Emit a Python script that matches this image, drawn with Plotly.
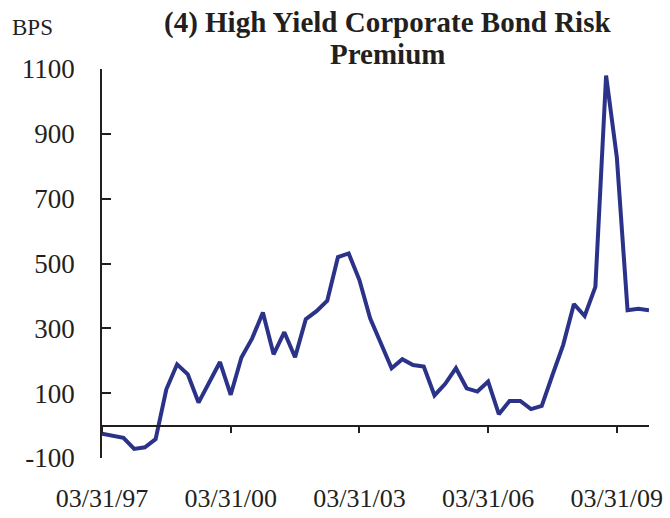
import plotly.graph_objects as go

# quarter-end dates, 1997Q1 .. 2009Q4
quarters = []
for yr in range(97, 110):
    for md in ["03/31", "06/30", "09/30", "12/31"]:
        quarters.append(f"{md}/{yr % 100:02d}")

# high yield corporate bond risk premium, bps
premium = [-25, -30, -38, -72, -67, -42, 112, 189, 158, 71, 136, 196,
           95, 210, 269, 349, 220, 288, 211, 328, 353, 385, 520, 531,
           449, 331, 254, 177, 205, 187, 182, 93, 129, 177, 115, 105,
           136, 35, 76, 76, 51, 61, 156, 249, 375, 338, 428, 1080,
           828, 356, 360, 356]

tick_labels = ["03/31/97", "03/31/00", "03/31/03", "03/31/06", "03/31/09"]
y_ticks = [-100, 100, 300, 500, 700, 900, 1100]

idx = list(range(len(quarters)))
tick_idx = [quarters.index(t) for t in tick_labels]

fig = go.Figure()
fig.add_trace(go.Scatter(x=idx, y=premium, mode="lines",
                         line=dict(color="#2B3388", width=4),
                         showlegend=False, xaxis="x", yaxis="y"))
# empty trace on xaxis2 so the zero-level axis is rendered
fig.add_trace(go.Scatter(x=[], y=[], xaxis="x2", yaxis="y", showlegend=False))

serif = "Liberation Serif, Times New Roman, serif"
ink = "#231F20"
H = 388.4  # plot height in px

fig.update_layout(
    width=670, height=518,
    margin=dict(l=102, r=21, t=69, b=60, autoexpand=False),
    plot_bgcolor="white", paper_bgcolor="white",
    font=dict(family=serif, color=ink),
    xaxis=dict(range=[0, len(quarters) - 1], showline=False, showgrid=False,
               zeroline=False, tickvals=tick_idx, ticktext=tick_labels,
               ticks="outside", ticklen=17, tickcolor="rgba(0,0,0,0)",
               tickfont=dict(size=26), automargin=False),
    xaxis2=dict(range=[0, len(quarters) - 1], overlaying="x", anchor="free",
                position=1 / 12, side="bottom", showline=True, linecolor=ink,
                linewidth=1.5, showgrid=False, zeroline=False,
                tickvals=tick_idx, ticks="outside", ticklen=7, tickwidth=1.5,
                tickcolor=ink, showticklabels=False, automargin=False),
    yaxis=dict(range=[-100, 1100], tickvals=y_ticks,
               ticktext=[str(v) for v in y_ticks], showline=True,
               linecolor=ink, linewidth=1.5, showgrid=False, zeroline=False,
               ticks="inside", ticklen=9, tickwidth=1.5, tickcolor=ink,
               ticklabelstandoff=20, tickfont=dict(size=27), automargin=False),
    annotations=[
        dict(text="<b>(4) High Yield Corporate Bond Risk</b>",
             x=(387 - 102) / 547, xanchor="center", xref="paper",
             y=1 + (69 - 4) / H, yanchor="top", yref="paper",
             showarrow=False, font=dict(family=serif, size=29, color=ink)),
        dict(text="<b>Premium</b>",
             x=(387 - 102) / 547, xanchor="center", xref="paper",
             y=1 + (69 - 36.5) / H, yanchor="top", yref="paper",
             showarrow=False, font=dict(family=serif, size=29, color=ink)),
        dict(text="BPS", x=(10 - 102) / 547, xanchor="left", xref="paper",
             y=1 + (69 - 28) / H, yanchor="middle", yref="paper",
             showarrow=False, font=dict(family=serif, size=23, color=ink)),
    ],
)

fig.write_html("out.html", config={"displayModeBar": False},
               post_script="document.body.style.margin='0';")
